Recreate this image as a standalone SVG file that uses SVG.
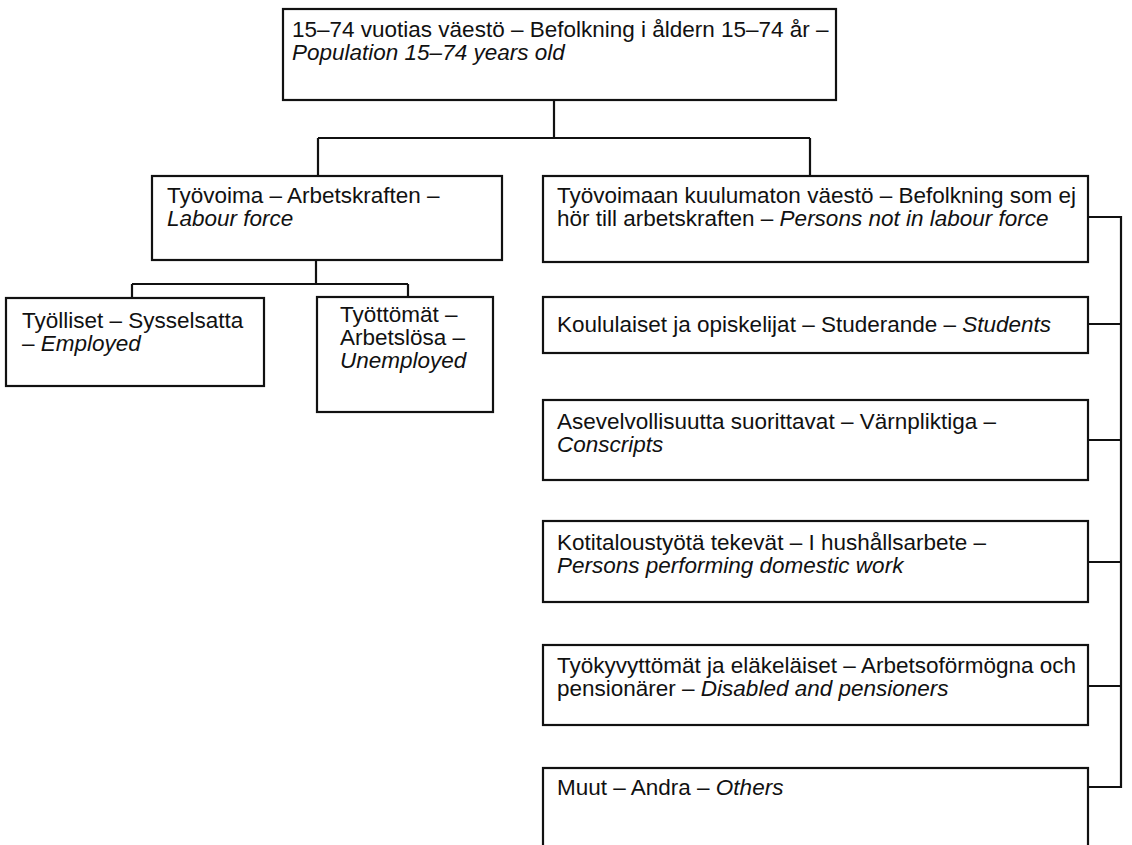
<svg xmlns="http://www.w3.org/2000/svg" width="1132" height="845" viewBox="0 0 1132 845">
<style>
rect.box{fill:#fff;stroke:#111;stroke-width:2.2}
text{font-family:"Liberation Sans",Arial,sans-serif;font-size:22.5px;fill:#111}
.it{font-style:italic}
.conn path{fill:none;stroke:#111;stroke-width:2.2}
</style>
<rect width="1132" height="845" fill="#fff"/>
<g class="conn" id="connectors">
<path d="M554 100V138M318 138H810M318 138V176M810 138V176"/>
<path d="M316 260V284M132 284H408M132 284V298M408 284V297"/>
<path d="M1088 217H1121M1088 324H1121M1088 440H1121M1088 562H1121M1088 686H1121M1088 787H1121M1121 216V788"/>
</g>
<g id="top">
<rect class="box" x="283" y="9" width="553" height="91"/>
<text x="292" y="37">15–74 vuotias väestö – Befolkning i åldern 15–74 år –</text>
<text x="292" y="60" class="it">Population 15–74 years old</text>
</g>
<g id="labour">
<rect class="box" x="152" y="176" width="350" height="84"/>
<text x="167" y="203">Työvoima – Arbetskraften –</text>
<text x="167" y="226" class="it">Labour force</text>
</g>
<g id="employed">
<rect class="box" x="6" y="298" width="258" height="88"/>
<text x="22" y="328">Työlliset – Sysselsatta</text>
<text x="22" y="351">– <tspan class="it">Employed</tspan></text>
</g>
<g id="unemployed">
<rect class="box" x="317" y="297" width="176" height="115"/>
<text x="340" y="322">Työttömät –</text>
<text x="340" y="345">Arbetslösa –</text>
<text x="340" y="368" class="it">Unemployed</text>
</g>
<g id="notlabour">
<rect class="box" x="543" y="176" width="545" height="86"/>
<text x="557" y="203">Työvoimaan kuulumaton väestö – Befolkning som ej</text>
<text x="557" y="226">hör till arbetskraften – <tspan class="it">Persons not in labour force</tspan></text>
</g>
<g id="students">
<rect class="box" x="543" y="297" width="545" height="56"/>
<text x="557" y="332">Koululaiset ja opiskelijat – Studerande – <tspan class="it">Students</tspan></text>
</g>
<g id="conscripts">
<rect class="box" x="543" y="400" width="545" height="80"/>
<text x="557" y="429">Asevelvollisuutta suorittavat – Värnpliktiga –</text>
<text x="557" y="452" class="it">Conscripts</text>
</g>
<g id="domestic">
<rect class="box" x="543" y="521" width="545" height="81"/>
<text x="557" y="550">Kotitaloustyötä tekevät – I hushållsarbete –</text>
<text x="557" y="573" class="it">Persons performing domestic work</text>
</g>
<g id="disabled">
<rect class="box" x="543" y="645" width="545" height="80"/>
<text x="557" y="673">Työkyvyttömät ja eläkeläiset – Arbetsoförmögna och</text>
<text x="557" y="696">pensionärer – <tspan class="it">Disabled and pensioners</tspan></text>
</g>
<g id="others">
<rect class="box" x="543" y="768" width="545" height="100"/>
<text x="557" y="795">Muut – Andra – <tspan class="it">Others</tspan></text>
</g>
</svg>
